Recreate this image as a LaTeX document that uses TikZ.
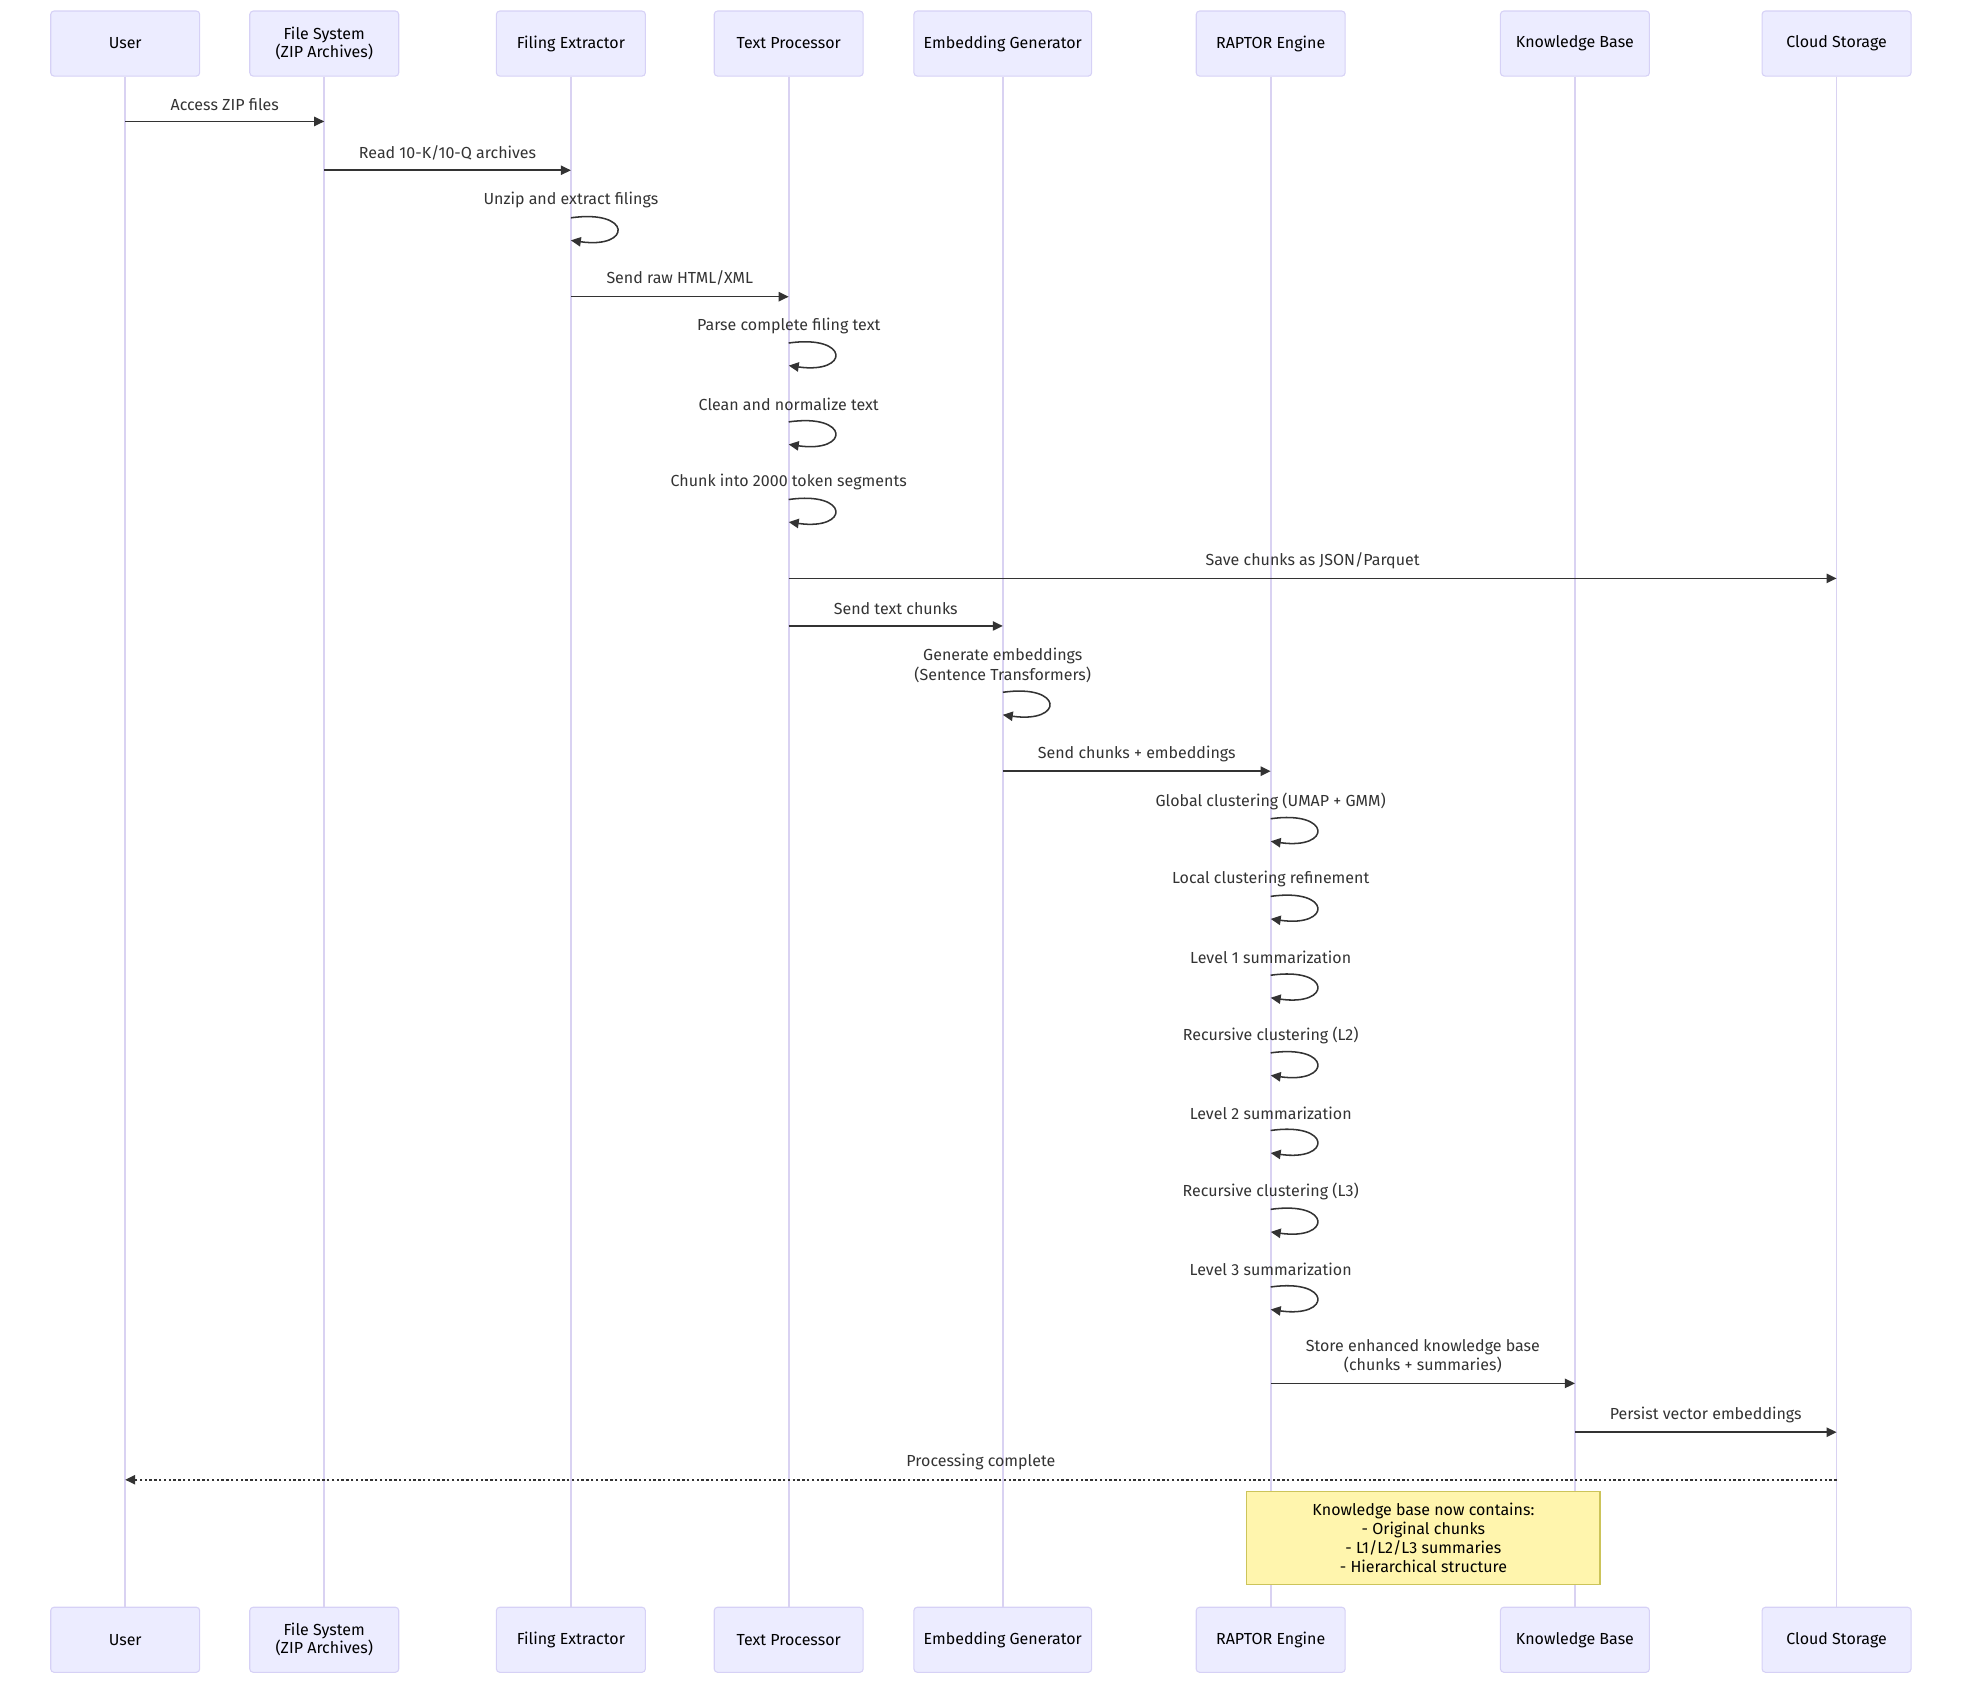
\documentclass[tikz,border=0pt]{standalone}
\usepackage{fontspec}
\setmainfont{Fira Sans}
\usetikzlibrary{arrows.meta}

\definecolor{actorfill}{HTML}{ECECFF}
\definecolor{actorborder}{HTML}{D6D1F6}
\definecolor{lifeline}{HTML}{D9D2F2}
\definecolor{msgcolor}{HTML}{333333}
\definecolor{notefill}{HTML}{FFF5AD}
\definecolor{noteborder}{HTML}{CCC45A}

\begin{document}
\begin{tikzpicture}[x=0.9389pt,y=-0.9389pt,
  actor/.style={draw=actorborder, fill=actorfill, rounded corners=2.5pt,
    minimum width=111.7pt, minimum height=48.8pt, align=center,
    font=\fontsize{12}{12.5}\selectfont, inner sep=0pt, line width=0.8pt},
  life/.style={draw=lifeline, line width=1.2pt},
  msg/.style={draw=msgcolor, line width=1.15pt, -{Triangle[length=7.5pt,width=7pt]}},
  reply/.style={msg, dash pattern=on 1.8pt off 1.8pt},
  lbl/.style={font=\fontsize{12}{14.4}\selectfont, align=center, text=msgcolor,
    inner sep=0pt},
  notebox/.style={draw=noteborder, fill=notefill, line width=0.8pt,
    minimum width=264.8pt, minimum height=70.4pt, align=center,
    font=\fontsize{12}{14.4}\selectfont, inner sep=0pt}]

\useasboundingbox (0,0) rectangle (1568,1344);

% participants, top row
\node[actor] (uT)  at (100,34.8)  {User};
\node[actor] (fsT) at (259,34.8)  {File System\\(ZIP Archives)};
\node[actor] (feT) at (456,34.8)  {Filing Extractor};
\node[actor] (tpT) at (630,34.8)  {Text Processor};
\node[actor, minimum width=133.3pt] (egT) at (801,34.8) {Embedding Generator};
\node[actor] (reT) at (1015,34.8) {RAPTOR Engine};
\node[actor] (kbT) at (1258,34.8) {Knowledge Base};
\node[actor] (csT) at (1467,34.8) {Cloud Storage};

% participants, bottom row
\node[actor] (uB)  at (100,1309.8)  {User};
\node[actor] (fsB) at (259,1309.8)  {File System\\(ZIP Archives)};
\node[actor] (feB) at (456,1309.8)  {Filing Extractor};
\node[actor] (tpB) at (630,1309.8)  {Text Processor};
\node[actor, minimum width=133.3pt] (egB) at (801,1309.8) {Embedding Generator};
\node[actor] (reB) at (1015,1309.8) {RAPTOR Engine};
\node[actor] (kbB) at (1258,1309.8) {Knowledge Base};
\node[actor] (csB) at (1467,1309.8) {Cloud Storage};

% lifelines
\foreach \p in {u,fs,fe,tp,eg,re,kb,cs}
  \draw[life] (\p T.south) -- (\p B.north);

% message rows
\coordinate (m1)  at (0,97);
\coordinate (m2)  at (0,136);
\coordinate (m3)  at (0,174);
\coordinate (m4)  at (0,237);
\coordinate (m5)  at (0,274);
\coordinate (m6)  at (0,337);
\coordinate (m7)  at (0,399);
\coordinate (m8)  at (0,462);
\coordinate (m9)  at (0,500);
\coordinate (m10) at (0,553);
\coordinate (m11) at (0,616);
\coordinate (m12) at (0,654);
\coordinate (m13) at (0,716);
\coordinate (m14) at (0,779);
\coordinate (m15) at (0,841);
\coordinate (m16) at (0,903);
\coordinate (m17) at (0,966);
\coordinate (m18) at (0,1028);
\coordinate (m19) at (0,1105);
\coordinate (m20) at (0,1144);
\coordinate (m21) at (0,1182);

% messages between participants
\draw[msg] (uT |- m1) -- node[lbl, yshift=12.4pt] {Access ZIP files} (fsT |- m1);
\draw[msg] (fsT |- m2) -- node[lbl, yshift=13pt] {Read 10-K/10-Q archives} (feT |- m2);
\draw[msg] (feT |- m4) -- node[lbl, yshift=13.8pt] {Send raw HTML/XML} (tpT |- m4);
\draw[msg] (tpT |- m8) -- node[lbl, yshift=13.2pt] {Save chunks as JSON/Parquet} (csT |- m8);
\draw[msg] (tpT |- m9) -- node[lbl, yshift=13.2pt] {Send text chunks} (egT |- m9);
\draw[msg] (egT |- m11) -- node[lbl, yshift=13.2pt] {Send chunks + embeddings} (reT |- m11);
\draw[msg] (reT |- m19) -- node[lbl, yshift=20.4pt] {Store enhanced knowledge base\\(chunks + summaries)} (kbT |- m19);
\draw[msg] (kbT |- m20) -- node[lbl, yshift=13.2pt] {Persist vector embeddings} (csT |- m20);
\draw[reply] (csT |- m21) -- node[lbl, yshift=13.2pt] {Processing complete} (uT |- m21);

% self messages
\draw[msg] (feT |- m3) .. controls +(49,-7) and +(49,7) .. ++(0,18);
\node[lbl, yshift=13.2pt] at (feT |- m3) {Unzip and extract filings};
\draw[msg] (tpT |- m5) .. controls +(49,-7) and +(49,7) .. ++(0,18);
\node[lbl, yshift=12.7pt] at (tpT |- m5) {Parse complete filing text};
\draw[msg] (tpT |- m6) .. controls +(49,-7) and +(49,7) .. ++(0,18);
\node[lbl, yshift=13.2pt] at (tpT |- m6) {Clean and normalize text};
\draw[msg] (tpT |- m7) .. controls +(49,-7) and +(49,7) .. ++(0,18);
\node[lbl, yshift=13.2pt] at (tpT |- m7) {Chunk into 2000 token segments};
\draw[msg] (egT |- m10) .. controls +(49,-7) and +(49,7) .. ++(0,18);
\node[lbl, yshift=20.2pt] at (egT |- m10) {Generate embeddings\\(Sentence Transformers)};
\draw[msg] (reT |- m12) .. controls +(49,-7) and +(49,7) .. ++(0,18);
\node[lbl, yshift=13.2pt] at (reT |- m12) {Global clustering (UMAP + GMM)};
\draw[msg] (reT |- m13) .. controls +(49,-7) and +(49,7) .. ++(0,18);
\node[lbl, yshift=13.2pt] at (reT |- m13) {Local clustering refinement};
\draw[msg] (reT |- m14) .. controls +(49,-7) and +(49,7) .. ++(0,18);
\node[lbl, yshift=13.2pt] at (reT |- m14) {Level 1 summarization};
\draw[msg] (reT |- m15) .. controls +(49,-7) and +(49,7) .. ++(0,18);
\node[lbl, yshift=13.2pt] at (reT |- m15) {Recursive clustering (L2)};
\draw[msg] (reT |- m16) .. controls +(49,-7) and +(49,7) .. ++(0,18);
\node[lbl, yshift=13.2pt] at (reT |- m16) {Level 2 summarization};
\draw[msg] (reT |- m17) .. controls +(49,-7) and +(49,7) .. ++(0,18);
\node[lbl, yshift=13.2pt] at (reT |- m17) {Recursive clustering (L3)};
\draw[msg] (reT |- m18) .. controls +(49,-7) and +(49,7) .. ++(0,18);
\node[lbl, yshift=13.2pt] at (reT |- m18) {Level 3 summarization};

% note spanning the engine and the knowledge base
\node[notebox] (note) at (1137,1228.5)
  {Knowledge base now contains:\\- Original chunks\\- L1/L2/L3 summaries\\- Hierarchical structure};

\end{tikzpicture}
\end{document}
